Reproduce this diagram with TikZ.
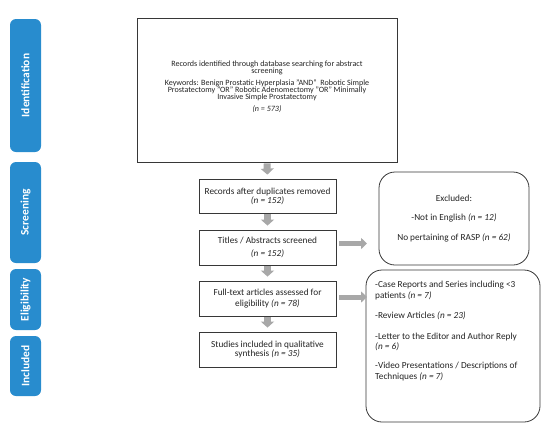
\documentclass[tikz,border=0pt]{standalone}
\usepackage{fontspec}
\setmainfont{Carlito}
\usetikzlibrary{arrows.meta}
\definecolor{tabblue}{RGB}{40,140,206}
\definecolor{arrowgray}{RGB}{168,168,168}
\definecolor{boxline}{RGB}{55,55,55}
\definecolor{txt}{RGB}{35,35,35}
\begin{document}
\begin{tikzpicture}[x=1bp,y=-1bp,
  tab/.style={fill=tabblue, rounded corners=6bp, rotate=90, minimum height=31bp, inner sep=0pt,
    text=white, font=\bfseries\fontsize{11.5}{12}\selectfont},
  box/.style={draw=boxline, line width=0.8bp, align=center, inner sep=2bp, text=txt,
    font=\fontsize{9.3}{11}\selectfont},
  roundbox/.style={draw=boxline, line width=0.8bp, rounded corners=16bp, inner sep=0pt},
  downarrow/.style={draw=arrowgray, line width=7bp, -{Triangle[width=13bp,length=6bp]},
    shorten <=1bp, shorten >=4bp},
  rightarrow/.style={draw=arrowgray, line width=5bp, -{Triangle[width=11bp,length=6bp]}}
]
\useasboundingbox (0,0) rectangle (550,430);

% phase tabs
\node[tab, minimum width=133bp] (idtab) at (25.5,85.5) {Identification};
\node[tab, minimum width=101bp] (sctab) at (25.5,212.5) {Screening};
\node[tab, minimum width=61bp] (eltab) at (25.5,299.5) {Eligibility};
\node[tab, minimum width=60bp] (intab) at (25.5,366) {Included};

% main boxes
\node[box, minimum width=260bp, minimum height=144bp] (top) at (267,90) {};
\node[align=center, inner sep=0pt, text=txt, font=\fontsize{8.1}{7.3}\selectfont] (toptext) at (267,87)
  {Records identified through database searching for abstract\\ screening\\[4bp]
   Keywords: Benign Prostatic Hyperplasia "AND"\ \ Robotic Simple\\
   Prostatectomy "OR" Robotic Adenomectomy "OR" Minimally\\
   Invasive Simple Prostatectomy\\[5bp]
   \textit{(n = 573)}};
\node[box, minimum width=137bp, minimum height=34bp, font=\fontsize{9.3}{9}\selectfont] (dup) at (267.5,196)
  {Records after duplicates removed\\ \textit{(n = 152)}};
\node[box, minimum width=137bp, minimum height=35bp] (titles) at (267.5,247.5)
  {Titles / Abstracts screened\\[2bp] \textit{(n = 152)}};
\node[box, minimum width=137bp, minimum height=35bp] (full) at (267.5,298.5)
  {Full-text articles assessed for\\ eligibility \textit{(n = 78)}};
\node[box, minimum width=137bp, minimum height=35bp, font=\fontsize{9.3}{10}\selectfont] (studies) at (267.5,349.5)
  {Studies included in qualitative\\ synthesis \textit{(n = 35)}};

% exclusion boxes
\node[roundbox, minimum width=150bp, minimum height=93bp, align=center, text=txt,
  font=\fontsize{9.3}{20}\selectfont] (excl1) at (454,218.5)
  {Excluded:\\ -Not in English \textit{(n = 12)}\\ No pertaining of RASP \textit{(n = 62)}};
\node[roundbox, minimum width=174bp, minimum height=152bp] (excl2) at (453,346) {};
\node[anchor=north west, inner sep=0pt, align=left, text=txt,
  font=\fontsize{9.3}{10.5}\selectfont] (excl2text) at (375,281)
  {-Case Reports and Series including <3\\ patients \textit{(n = 7)}\\[10bp]
   -Review Articles \textit{(n = 23)}\\[10bp]
   -Letter to the Editor and Author Reply\\ \textit{(n = 6)}\\[9bp]
   -Video Presentations / Descriptions of\\ Techniques \textit{(n = 7)}};

% arrows
\draw[downarrow] (top.south) -- (dup.north);
\draw[downarrow] (dup.south) -- (titles.north);
\draw[downarrow] (titles.south) -- (full.north);
\draw[downarrow] (full.south) -- (studies.north);
\coordinate (a1) at (367,243.5);
\coordinate (a2) at (367,297);
\draw[rightarrow] (titles.east |- a1) ++(3,0) -- (a1);
\draw[rightarrow] (full.east |- a2) ++(3,0) -- (a2);
\end{tikzpicture}
\end{document}
